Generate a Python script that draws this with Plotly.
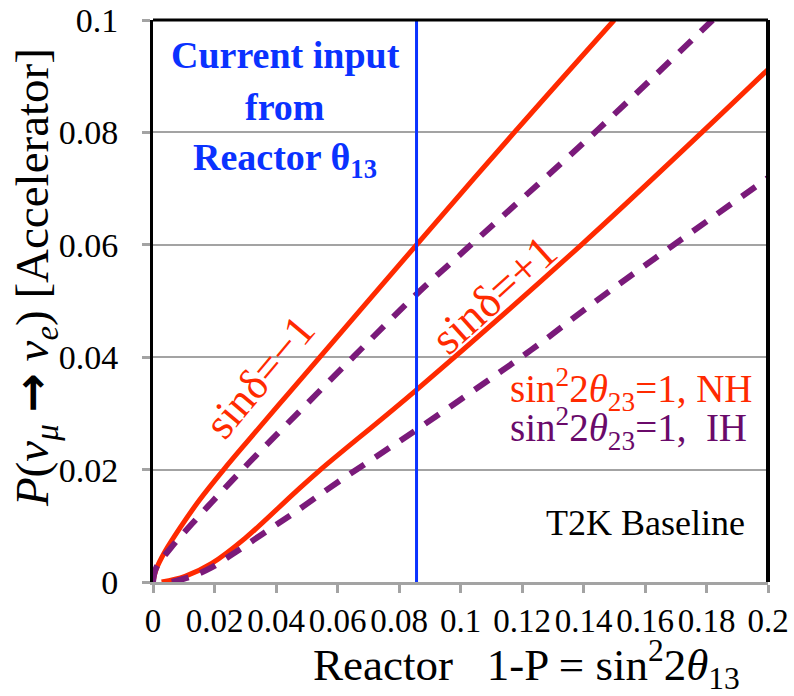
import plotly.graph_objects as go

# ---------------- data ----------------
# NH, sin(delta) = -1  (red solid, upper)
nh_minus_x = [0, 0.001, 0.004, 0.009, 0.015, 0.023, 0.031, 0.041, 0.053, 0.0857, 0.1175, 0.150]
nh_minus_p = [0, 0.0022, 0.0055, 0.0098, 0.0145, 0.0200, 0.0252, 0.0316, 0.0392, 0.060, 0.080, 0.100]
# IH, sin(delta) = -1  (purple dashed, upper)
ih_minus_x = [0, 0.001, 0.006, 0.0126, 0.0191, 0.0256, 0.0333, 0.0414, 0.0654, 0.0857, 0.104, 0.1447, 0.182]
ih_minus_p = [0, 0.0025, 0.0062, 0.0103, 0.0142, 0.0180, 0.0224, 0.0269, 0.0402, 0.0512, 0.0603, 0.0805, 0.100]
# NH, sin(delta) = +1  (red solid, lower)
nh_plus_x = [0.0028, 0.0104, 0.0191, 0.030, 0.0463, 0.0545, 0.0857, 0.1393, 0.1785, 0.2]
nh_plus_p = [0, 0.001, 0.0033, 0.0078, 0.0160, 0.0200, 0.0342, 0.0600, 0.0800, 0.0912]
# IH, sin(delta) = +1  (purple dashed, lower)
ih_plus_x = [0.0061, 0.0126, 0.0191, 0.0268, 0.0355, 0.0453, 0.061, 0.0857, 0.123, 0.1458, 0.2]
ih_plus_p = [0, 0.001, 0.0026, 0.0053, 0.0085, 0.0121, 0.0181, 0.0271, 0.0413, 0.0507, 0.0719]

reactor_input = 0.0857

x_tick_vals = [0, 0.02, 0.04, 0.06, 0.08, 0.1, 0.12, 0.14, 0.16, 0.18, 0.2]
x_tick_text = ["0", "0.02", "0.04", "0.06", "0.08", "0.1", "0.12", "0.14", "0.16", "0.18", "0.2"]
y_tick_vals = [0, 0.02, 0.04, 0.06, 0.08, 0.1]
y_tick_text = ["0", "0.02", "0.04", "0.06", "0.08", "0.1"]

# ---------------- style ----------------
RED = "#ff2a00"
PURPLE = "#7a1a7a"
PURPLE_TXT = "#6a0a6a"
BLUE = "#0a32ff"
GRAY = "#a3a3a3"
FONT = "Liberation Serif"

fig = go.Figure()

fig.add_trace(go.Scatter(x=nh_minus_x, y=nh_minus_p, mode="lines",
                         line=dict(color=RED, width=5, shape="spline", smoothing=1.0),
                         name="NH sinδ=-1"))
fig.add_trace(go.Scatter(x=nh_plus_x, y=nh_plus_p, mode="lines",
                         line=dict(color=RED, width=5, shape="spline", smoothing=1.0),
                         name="NH sinδ=+1"))
fig.add_trace(go.Scatter(x=ih_minus_x, y=ih_minus_p, mode="lines",
                         line=dict(color=PURPLE, width=6, dash="17px,13px", shape="spline", smoothing=1.0),
                         name="IH sinδ=-1"))
fig.add_trace(go.Scatter(x=ih_plus_x, y=ih_plus_p, mode="lines",
                         line=dict(color=PURPLE, width=6, dash="17px,13px", shape="spline", smoothing=1.0),
                         name="IH sinδ=+1"))
fig.add_trace(go.Scatter(x=[reactor_input, reactor_input], y=[y_tick_vals[0], y_tick_vals[-1]],
                         mode="lines", line=dict(color=BLUE, width=3), name="Reactor input"))

annotations = [
    # blue text
    dict(x=0.043, y=0.0938, text="<b>Current input</b>", font=dict(size=38, color=BLUE)),
    dict(x=0.043, y=0.0845, text="<b>from</b>", font=dict(size=38, color=BLUE)),
    dict(x=0.043, y=0.0751, text="<b>Reactor θ<sub>13</sub></b>", font=dict(size=38, color=BLUE)),
    # rotated labels
    dict(x=0.0349, y=0.0365, text="sinδ=\u22121", textangle=-50, font=dict(size=44, color=RED)),
    dict(x=0.111, y=0.0511, text="sinδ=+1", textangle=-42, font=dict(size=46, color=RED)),
    # legend-like text
    dict(x=0.1154, y=0.0343, xanchor="left",
         text="sin<sup>2</sup>2<i>θ</i><sub>23</sub>=1, NH", font=dict(size=39, color=RED)),
    dict(x=0.1154, y=0.0274, xanchor="left",
         text="sin<sup>2</sup>2<i>θ</i><sub>23</sub>=1,\u00a0 IH", font=dict(size=39, color=PURPLE_TXT)),
    dict(x=0.1272, y=0.0105, xanchor="left", text="T2K Baseline", font=dict(size=36, color="black")),
]
for a in annotations:
    a.update(xref="x", yref="y", showarrow=False, yanchor=a.get("yanchor", "middle"),
             xanchor=a.get("xanchor", "center"))
    a["font"]["family"] = FONT

# axis titles as annotations
annotations.append(dict(
    xref="paper", yref="paper", x=-0.1916, y=0.541, showarrow=False, textangle=-90,
    text=("<i>P</i>(<i>ν</i><sub><i>μ</i></sub> "
          "<span style=\"font-family:DejaVu Sans;font-weight:bold\">→</span> "
          "<i>ν</i><sub><i>e</i></sub>) [Accelerator]"),
    font=dict(family=FONT, size=47, color="black"), xanchor="center", yanchor="middle"))
annotations.append(dict(
    xref="paper", yref="paper", x=0.608, y=-0.146, showarrow=False,
    text="Reactor\u00a0\u00a0\u00a01-P = sin<sup>2</sup>2<i>θ</i><sub>13</sub>",
    font=dict(family=FONT, size=45, color="black"), xanchor="center", yanchor="middle"))

shapes = [
    dict(type="line", xref="paper", yref="paper", x0=0, x1=1, y0=1, y1=1,
         line=dict(color="black", width=3)),
    dict(type="line", xref="paper", yref="paper", x0=1, x1=1, y0=0, y1=1,
         line=dict(color="black", width=4)),
]

fig.update_layout(
    width=794, height=696,
    margin=dict(l=153, r=26, t=20, b=114, autoexpand=False),
    plot_bgcolor="white", paper_bgcolor="white",
    showlegend=False,
    font=dict(family=FONT, color="black"),
    annotations=annotations,
    shapes=shapes,
    xaxis=dict(range=[0, 0.2], tickvals=x_tick_vals, ticktext=x_tick_text,
               tickangle=0, automargin=False,
               ticks="outside", ticklen=8, tickwidth=2.5, tickcolor=GRAY,
               showline=True, linecolor=GRAY, linewidth=2.5,
               showgrid=False, zeroline=False,
               tickfont=dict(family=FONT, size=33, color="black"),
               ticklabelstandoff=0),
    yaxis=dict(range=[0, 0.1], tickvals=y_tick_vals, ticktext=y_tick_text,
               automargin=False,
               ticks="outside", ticklen=8, tickwidth=2.5, tickcolor=GRAY,
               showline=True, linecolor="black", linewidth=3,
               showgrid=True, gridcolor=GRAY, gridwidth=2, zeroline=False,
               tickfont=dict(family=FONT, size=34, color="black"),
               ticklabelstandoff=17),
)

fig.write_html("out.html")
